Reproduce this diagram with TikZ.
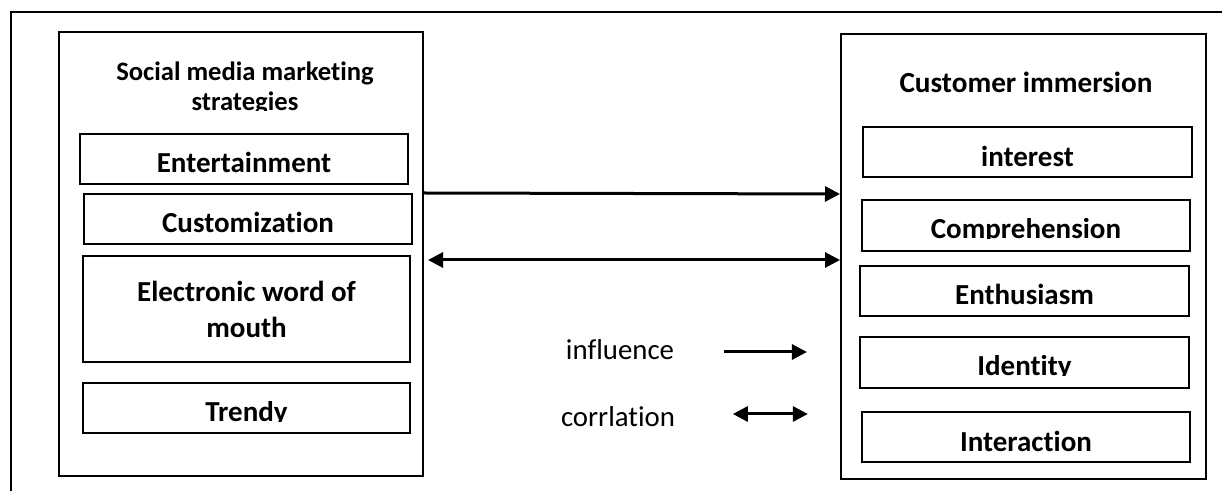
\documentclass[tikz,border=0pt]{standalone}
\usepackage{fontspec}
\setmainfont{Carlito}[Ligatures=NoCommon]
\usepackage{adjustbox}
\usetikzlibrary{arrows.meta}
% text whose descenders are cut off, as in the text boxes of the figure
\newcommand\cutoff[1]{\adjustbox{trim=0pt {\depth} 0pt 0pt, clip}{#1}}

\begin{document}
\begin{tikzpicture}[x=0.5pt, y=-0.5pt,
    bigbox/.style={draw, line width=1pt, inner sep=0pt},
    item/.style={draw, line width=1pt, inner sep=0pt, font=\fontsize{14.5}{17}\selectfont\bfseries, text height=13.5pt, text depth=0pt},
    itemtwo/.style={draw, line width=1pt, inner sep=0pt, align=center, font=\fontsize{14.5}{18}\selectfont\bfseries},
    title/.style={align=center, inner sep=0pt},
    legend/.style={inner sep=0pt, font=\fontsize{14.4}{17}\selectfont},
    infl/.style={line width=1.5pt, -{Triangle[length=7.5pt, width=7.5pt]}},
    corr/.style={line width=1.5pt, {Triangle[length=7.5pt, width=7.5pt]}-{Triangle[length=7.5pt, width=7.5pt]}}]
        %\draw [help lines] (0,0) grid[step=50] (1222,491);
        \useasboundingbox (0,0) rectangle (1222,491);

        % frame round the figure, cut off at the bottom
        \draw[line width=1pt] (11,491) -- (11,12) -- (1222,12);

        %the main figure starts
        \node[bigbox, minimum width=182pt, minimum height=222pt] (smm) at (241,254) {};
        \node[title, font=\fontsize{13.3}{15}\selectfont\bfseries] (smmt) at (245,86) {Social media marketing\\\cutoff{strategies}};
        \node[item, minimum width=164pt, minimum height=25pt] (ent) at (244,159) {Entertainment};
        \node[item, minimum width=164pt, minimum height=25pt] (cus) at (248,219) {Customization};
        \node[itemtwo, minimum width=163.5pt, minimum height=53pt] (ewom) at (246.5,309) {Electronic word of\\mouth};
        \node[item, minimum width=163.5pt, minimum height=25pt] (tre) at (246.5,408) {\cutoff{Trendy}};

        \node[bigbox, minimum width=182.5pt, minimum height=222.5pt] (ci) at (1023.5,256.5) {};
        \node[title, font=\fontsize{14.6}{17}\selectfont\bfseries] (cit) at (1026,82) {Customer immersion};
        \node[item, minimum width=164.5pt, minimum height=25pt, text height=15pt] (int) at (1027.5,152) {interest};
        \node[item, minimum width=164pt, minimum height=25.5pt] (com) at (1026,225.5) {\cutoff{Comprehension}};
        \node[item, minimum width=164.5pt, minimum height=25pt, text height=14pt] (ent2) at (1024.5,291) {Enthusiasm};
        \node[item, minimum width=164.5pt, minimum height=25.5pt] (ide) at (1024.5,362.5) {\cutoff{Identity}};
        \node[item, minimum width=164pt, minimum height=25pt, text height=15pt] (itr) at (1026,437) {Interaction};

        %\draw [red] (smm.east) -- (ci.west);
        \draw[infl] ([yshift=30.5pt]smm.east) -- ([yshift=31.25pt]ci.west);
        \draw[corr] ([xshift=2pt, yshift=-3pt]smm.east) -- ([yshift=-1.75pt]ci.west);

        % legend
        \node[legend] (inf) at (620,350) {influence};
        \node[legend] (cor) at (618,417) {corrlation};
        \draw[infl] ([xshift=24.75pt, yshift=-1pt]inf.east) -- ++(83,0);
        \draw[corr] ([xshift=28.75pt, yshift=1.5pt]cor.east) -- ++(75,0);

\end{tikzpicture}
\end{document}
